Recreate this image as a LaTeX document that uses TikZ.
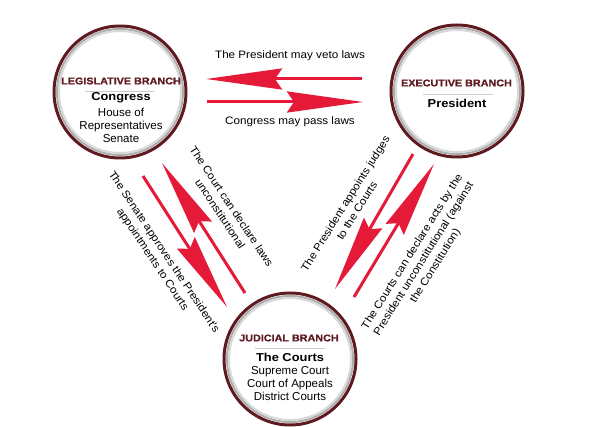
\documentclass[tikz,border=0pt]{standalone}
\usepackage{fontspec}
\setmainfont{Liberation Sans}
\usepackage{xcolor}
\usepackage{tikz}
\usetikzlibrary{arrows.meta}

\definecolor{maroon}{RGB}{94,26,32}
\definecolor{arrowred}{RGB}{228,26,56}
\newfontfamily\widefont{Liberation Sans}[FakeStretch=1.08]
\newfontfamily\headfont{Liberation Sans}[FakeStretch=1.12]
\newfontfamily\heavyfont{Liberation Sans Bold}[FakeStretch=1.1, FakeBold=0.8]

\tikzset{
	branch/.style={circle, draw=maroon, line width=3pt, fill=white, minimum size=132pt, inner sep=0pt},
	head/.style={font=\heavyfont\fontsize{9.8}{11}\selectfont, text=maroon, inner sep=0pt},
	title/.style={font=\headfont\bfseries\fontsize{11.5}{13}\selectfont, inner sep=0pt},
	members/.style={font=\fontsize{11.5}{13}\selectfont, align=center, inner sep=0pt},
	power/.style={font=\widefont\fontsize{10.8}{13.5}\selectfont, align=center, inner sep=0pt},
	bigarrow/.style={draw=arrowred, line width=3pt, -{Stealth[length=76pt, width=21pt, inset=7pt]}}
}

\begin{document}
\begin{tikzpicture}[x=1pt, y=-1pt]
	\useasboundingbox (0,0) rectangle (607,427);
	
	% Branches
	\node[branch] (leg) at (120,92) {};
	\node[branch] (exe) at (457,91) {};
	\node[branch] (jud) at (290,359) {};
	\foreach \c in {leg,exe,jud} {
		\draw[black!32, line width=2pt] (\c) circle (63);
		\draw[black!15, line width=2pt] (\c) circle (61);
	}
	
	% Legislative
	\node[head] (leghead) at (121,81) {LEGISLATIVE BRANCH};
	\draw[black!20, line width=0.8pt] (85,91) -- (154,91);
	\node[title] (legname) at (121,98) {Congress};
	\node[members] (legbody) at (121,125.5) {House of\\Representatives\\Senate};
	
	% Executive
	\node[head] (exehead) at (456.5,83) {EXECUTIVE BRANCH};
	\draw[black!20, line width=0.8pt] (423,94) -- (493,94);
	\node[title] (exename) at (457,103) {President};
	
	% Judicial
	\node[head] (judhead) at (289,338) {JUDICIAL BRANCH};
	\draw[black!20, line width=0.8pt] (255,348) -- (325,348);
	\node[title] (judname) at (290,357) {The Courts};
	\node[members] (judbody) at (290,384) {Supreme Court\\Court of Appeals\\District Courts};
	
	% Arrow ends
	\coordinate (veto-s) at (362,79);
	\coordinate (veto-e) at (206,79);
	\coordinate (pass-s) at (207,102);
	\coordinate (pass-e) at (363,102);
	\coordinate (senate-s) at (143,176);
	\coordinate (senate-e) at (227,307);
	\coordinate (court-s) at (245,293);
	\coordinate (court-e) at (162,163);
	\coordinate (appoint-s) at (413,154);
	\coordinate (appoint-e) at (335,289);
	\coordinate (acts-s) at (354,297);
	\coordinate (acts-e) at (434,164);
	
	% Arrows
	\draw[bigarrow] (veto-s) -- (veto-e);
	\draw[bigarrow] (pass-s) -- (pass-e);
	\draw[bigarrow] (senate-s) -- (senate-e);
	\draw[bigarrow] (court-s) -- (court-e);
	\draw[bigarrow] (appoint-s) -- (appoint-e);
	\draw[bigarrow] (acts-s) -- (acts-e);
	
	% Powers
	\node[power] (vetotext) at (290,56) {The President may veto laws};
	\node[power] (passtext) at (290,122) {Congress may pass laws};
	\node[power, rotate=-56.4] (senatetext) at (158,256) {The Senate approves the President's\\appointments to Courts};
	\node[power, rotate=-56.4] (courttext) at (226,210) {The Court can declare laws\\unconstitutional};
	\node[power, rotate=58] (appointtext) at (351,207) {The President appoints judges\\to the Courts};
	\node[power, rotate=58] (actstext) at (424,259) {The Courts can declare acts by the\\President unconstitutional (against\\the Constitution)};
\end{tikzpicture}
\end{document}
